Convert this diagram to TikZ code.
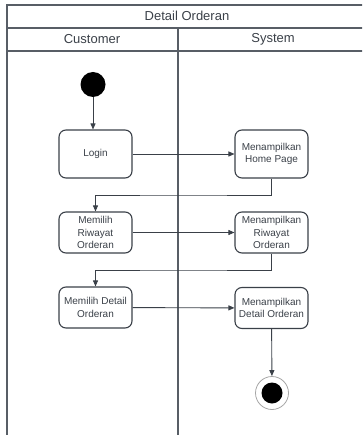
\documentclass[tikz,border=0pt]{standalone}
\usepackage{fontspec}
\setmainfont{Liberation Sans}
\usetikzlibrary{arrows.meta,calc}
\definecolor{lanegray}{RGB}{88,94,102}
\definecolor{inkgray}{RGB}{58,64,72}
\begin{document}
\begin{tikzpicture}
[x=1pt,y=-1pt,
  lanedecorate/.style={draw=lanegray,line width=1.2pt},%
  headdecorate/.style={text=inkgray,font=\fontsize{13}{15}\selectfont},%
  actdecorate/.style={shape=rectangle,rounded corners=7pt,draw=inkgray,line width=1.1pt,
    minimum width=73pt,minimum height=41pt,inner sep=1pt,align=center,
    text=inkgray,font=\fontsize{10}{12.3}\selectfont},%
  linedecorate/.style={draw=inkgray,line width=0.9pt,-{Triangle[length=6pt,width=5pt]}}]
\useasboundingbox (0,0) rectangle (362,435);
\clip (0,0) rectangle (362,435);
%% swimlanes
\draw[lanedecorate] (7,435) -- (7,5) -- (370,5);
\draw[lanedecorate] (7,28) -- (370,28);
\draw[lanedecorate] (7,51) -- (370,51);
\draw[lanedecorate] (178,28) -- (178,435);
\node (title) at (187,16) [headdecorate] {Detail Orderan};
\node (customer) at (92,39) [headdecorate] {Customer};
\node (system) at (273,39) [headdecorate] {System};
%% start and end
\node (start) at (93,84.5) [shape=circle,fill=black,minimum size=25pt,inner sep=0pt] {};
\node (end) at (272,393) [shape=circle,draw=gray!70,line width=0.8pt,minimum size=33pt,inner sep=0pt] {};
\node (endfill) at (272,393) [shape=circle,fill=black,minimum size=21pt,inner sep=0pt] {};
%% activities
\foreach \nodename/\x/\y/\h/\txt in {
  login/95.5/154/48/{Login},
  home/271.5/154/48/{Menampilkan\\Home Page},
  riwayat/95.5/232.5/41/{Memilih\\Riwayat\\Orderan},
  sysriwayat/271.5/232.5/41/{Menampilkan\\Riwayat\\Orderan},
  detail/95.5/307.5/41/{Memilih Detail\\Orderan},
  sysdetail/271.5/308/41/{Menampilkan\\Detail Orderan}} {
  \node (\nodename) at (\x,\y) [actdecorate,minimum height=\h pt] {\txt};
}
%% flows
\draw[linedecorate] (start) -- (start |- login.north);
\foreach \startnode/\endnode in {login/home, riwayat/sysriwayat, detail/sysdetail} {
  \draw[linedecorate] (\startnode) -- (\endnode);
}
\draw[linedecorate] (home.south) |- ($(home.south)!0.5!(riwayat.north)$) -| (riwayat.north);
\draw[linedecorate] (sysriwayat.south) |- ($(sysriwayat.south)!0.5!(detail.north)$) -| (detail.north);
\draw[linedecorate] (sysdetail) -- (end);
\end{tikzpicture}
\end{document}
